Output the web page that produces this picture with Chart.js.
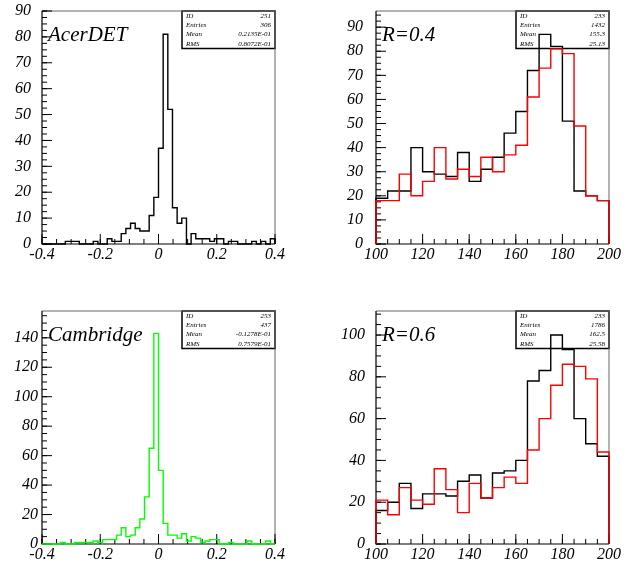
<!DOCTYPE html>
<html>
<head>
<meta charset="utf-8">
<script src="https://cdn.jsdelivr.net/npm/chart.js@4.4.1/dist/chart.umd.min.js"></script>
<style>
  html, body { margin: 0; padding: 0; background: #fff; }
  #wrap { position: relative; width: 624px; height: 563px; }
  canvas { position: absolute; }
</style>
</head>
<body>
<div id="wrap">
  <canvas id="acer" width="312" height="282" style="left:0;top:0"></canvas>
  <canvas id="r04" width="290" height="282" style="left:334px;top:0"></canvas>
  <canvas id="camb" width="312" height="263" style="left:0;top:300px"></canvas>
  <canvas id="r06" width="290" height="263" style="left:334px;top:300px"></canvas>
</div>
<script>
// binning: 50 bins from -0.4 (width 0.016) for the left plots, 20 bins from 100 (width 5) for the right ones
const acerCounts = [0,0,0,0,0, 1,1,1,0,0, 0,1,0,0,2, 1,1,4,6,8, 6,5,5,11,18,
                    37,81,52,14,8, 10,0,4,2,2, 2,1,2,2,0, 1,1,0,0,0, 1,0,1,0,2];
const cambCounts = [0,0,0,0,1, 0,0,1,1,1, 1,2,1,3,3, 3,6,11,5,6, 11,17,32,65,143,
                    50,14,6,6,4, 7,2,5,4,1, 2,3,3,0,0, 1,0,0,0,2, 0,0,0,2,0];
const r04Black = [19,22,22,40,30,29,28,38,26,31,36,46,55,72,87,82,51,22,20,18];
const r04Red   = [18,18,29,20,26,40,27,31,28,36,30,37,41,61,73,81,79,49,20,18];
const r06Black = [16,20,29,17,24,24,23,30,33,22,34,35,40,78,83,100,93,60,48,42];
const r06Red   = [21,14,27,21,19,36,26,15,29,22,27,32,29,45,60,76,86,85,79,44];

const acerStats = [["ID","251"],["Entries","306"],["Mean","0.2135E-01"],["RMS","0.8072E-01"]];
const cambStats = [["ID","253"],["Entries","437"],["Mean","-0.1278E-01"],["RMS","0.7579E-01"]];
const r04Stats  = [["ID","233"],["Entries","1432"],["Mean","155.3"],["RMS","25.13"]];
const r06Stats  = [["ID","233"],["Entries","1786"],["Mean","162.5"],["RMS","25.58"]];

const SERIF = '"Liberation Serif", "DejaVu Serif", serif';

// turn bin counts into outline points (drops to 0 at both ends)
function histPoints(counts, lo, w) {
  const pts = [{x: lo, y: 0}];
  counts.forEach((c, i) => pts.push({x: lo + i * w, y: c}));
  pts.push({x: lo + counts.length * w, y: 0});
  return pts;
}

function minorValues(scale, step) {
  const out = [];
  for (let k = 0; ; k++) {
    const v = scale.min + k * step;
    if (v > scale.max + 1e-9) break;
    out.push(v);
  }
  return out;
}

// PAW-style frame, inward ticks, stat box, title
const pawPlugin = {
  id: "paw",
  beforeDatasetsDraw(chart, args, o) {
    const ctx = chart.ctx;
    const a = chart.chartArea;
    const x = chart.scales.x, y = chart.scales.y;
    ctx.save();

    // stat box
    const bw = 93, bh = 37.5;
    ctx.fillStyle = "#fff";
    ctx.fillRect(a.right - bw, a.top, bw, bh);
    ctx.strokeStyle = "#000";
    ctx.lineWidth = 1.5;
    ctx.strokeRect(a.right - bw, a.top, bw, bh);
    ctx.font = "italic 7px " + SERIF;
    ctx.fillStyle = "#000";
    ctx.textBaseline = "middle";
    o.stats.forEach((row, i) => {
      const ty = a.top + 4.8 + i * 9.35;
      ctx.textAlign = "left";
      ctx.fillText(row[0], a.right - bw + 4, ty);
      ctx.textAlign = "right";
      ctx.fillText(row[1], a.right - 4, ty);
    });

    // frame
    ctx.lineWidth = 1;
    ctx.strokeStyle = "#666";
    ctx.beginPath();
    ctx.moveTo(a.left, a.top); ctx.lineTo(a.right, a.top); ctx.lineTo(a.right, a.bottom);
    ctx.stroke();
    ctx.strokeStyle = "#000";
    ctx.lineWidth = 1.2;
    ctx.beginPath();
    ctx.moveTo(a.left, a.top); ctx.lineTo(a.left, a.bottom); ctx.lineTo(a.right, a.bottom);
    ctx.stroke();

    // ticks
    ctx.lineWidth = 1;
    ctx.beginPath();
    minorValues(x, o.xMinor).forEach(v => {
      const px = x.getPixelForValue(v);
      ctx.moveTo(px, a.bottom); ctx.lineTo(px, a.bottom - 5);
    });
    x.ticks.forEach(t => {
      const px = x.getPixelForValue(t.value);
      ctx.moveTo(px, a.bottom); ctx.lineTo(px, a.bottom - 10);
    });
    minorValues(y, o.yMinor).forEach(v => {
      const py = y.getPixelForValue(v);
      ctx.moveTo(a.left, py); ctx.lineTo(a.left + 5, py);
    });
    y.ticks.forEach(t => {
      const py = y.getPixelForValue(t.value);
      ctx.moveTo(a.left, py); ctx.lineTo(a.left + 10, py);
    });
    ctx.stroke();
    ctx.restore();
  },
  afterDatasetsDraw(chart, args, o) {
    const ctx = chart.ctx;
    const a = chart.chartArea;
    ctx.save();
    ctx.font = "italic 21px " + SERIF;
    ctx.fillStyle = "#000";
    ctx.textAlign = "left";
    ctx.textBaseline = "alphabetic";
    ctx.fillText(o.title, a.left + 6, a.top + 30);
    ctx.restore();
  }
};

function xLabel(v) {
  if (Math.abs(v) < 1e-9) return "0";
  return Number.isInteger(Math.round(v * 1000) / 1000) ? String(Math.round(v)) : v.toFixed(1);
}

function makePanel(id, p) {
  const canvas = document.getElementById(id);
  const W = canvas.width, H = canvas.height;
  const tickFont = { family: SERIF, size: 16, style: "italic" };
  return new Chart(canvas, {
    type: "line",
    data: {
      datasets: p.series.map(s => ({
        data: histPoints(s.counts, p.lo, p.w),
        borderColor: s.color,
        borderWidth: 1.4,
        pointRadius: 0,
        fill: false,
        stepped: "before",
        order: s.order,
        clip: 3
      }))
    },
    options: {
      responsive: false,
      animation: false,
      layout: { padding: { left: 0, top: 11, right: W - 275, bottom: 0 } },
      plugins: {
        legend: { display: false },
        tooltip: { enabled: false },
        paw: { title: p.title, stats: p.stats, xMinor: p.xMinor, yMinor: p.yMinor }
      },
      scales: {
        x: {
          type: "linear",
          min: p.lo,
          max: p.lo + p.w * p.series[0].counts.length,
          grid: { display: false, drawTicks: false },
          border: { display: false },
          ticks: {
            stepSize: p.xStep, color: "#000", font: tickFont, padding: 1,
            maxRotation: 0, autoSkip: false, includeBounds: false,
            callback: v => xLabel(v)
          },
          afterFit: s => {
            s.height = H - 244;
            s.paddingLeft = 0; s.paddingRight = 0;
          }
        },
        y: {
          type: "linear",
          min: 0,
          max: p.yMax,
          grid: { display: false, drawTicks: false },
          border: { display: false },
          ticks: {
            stepSize: p.yStep, color: "#000", font: tickFont, padding: p.yPad,
            autoSkip: false, includeBounds: false,
            callback: v => String(Math.round(v))
          },
          afterFit: s => {
            s.width = 42;
            s.paddingTop = 0; s.paddingBottom = 0;
          }
        }
      }
    },
    plugins: [pawPlugin]
  });
}

makePanel("acer", {
  title: "AcerDET", stats: acerStats, lo: -0.4, w: 0.016,
  xStep: 0.2, xMinor: 0.05, yMax: 90, yStep: 10, yMinor: 2.5, yPad: 11,
  series: [{ counts: acerCounts, color: "#000", order: 0 }]
});
makePanel("r04", {
  title: "R=0.4", stats: r04Stats, lo: 100, w: 5,
  xStep: 20, xMinor: 5, yMax: 96.7, yStep: 10, yMinor: 2.5, yPad: 13,
  series: [{ counts: r04Black, color: "#000", order: 1 }, { counts: r04Red, color: "#ff0000", order: 0 }]
});
makePanel("camb", {
  title: "Cambridge", stats: cambStats, lo: -0.4, w: 0.016,
  xStep: 0.2, xMinor: 0.05, yMax: 158.2, yStep: 20, yMinor: 5, yPad: 4,
  series: [{ counts: cambCounts, color: "#00ff00", order: 0 }]
});
makePanel("r06", {
  title: "R=0.6", stats: r06Stats, lo: 100, w: 5,
  xStep: 20, xMinor: 5, yMax: 111.5, yStep: 20, yMinor: 5, yPad: 11,
  series: [{ counts: r06Black, color: "#000", order: 1 }, { counts: r06Red, color: "#ff0000", order: 0 }]
});
</script>
</body>
</html>
